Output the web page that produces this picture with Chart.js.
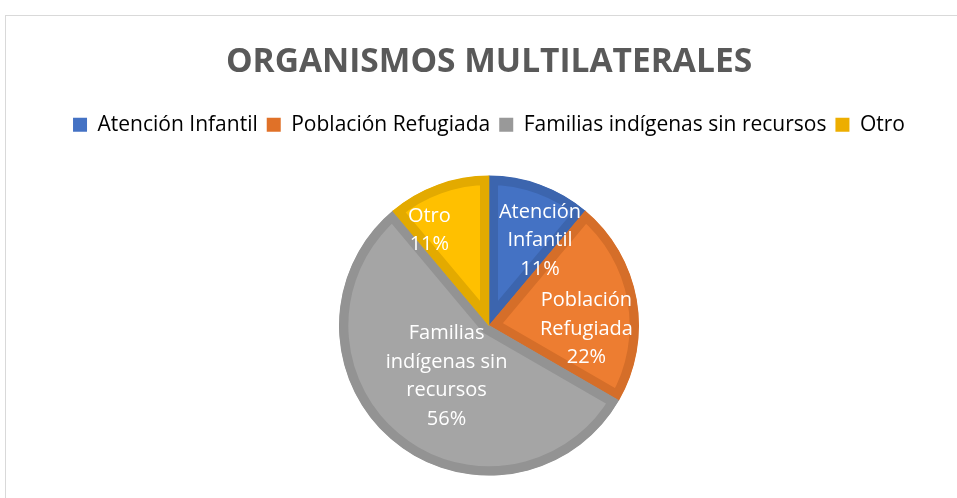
<!DOCTYPE html>
<html>
<head>
<meta charset="utf-8">
<script src="https://cdn.jsdelivr.net/npm/chart.js@4.4.0/dist/chart.umd.min.js"></script>
<style>
    html, body { margin: 0; padding: 0; background: #ffffff; }
    #wrap { position: relative; width: 957px; height: 498px; overflow: hidden; }
    #frame { position: absolute; left: 5px; top: 15px; width: 980px; height: 520px; border: 1px solid #d9d9d9; }
    #chart { position: absolute; left: 0; top: 0; }
</style>
</head>
<body>
<div id="wrap">
    <div id="frame"></div>
    <canvas id="chart" width="957" height="498"></canvas>
</div>
<script>
// Datos del gráfico
const categorias = ['Atención Infantil', 'Población Refugiada', 'Familias indígenas sin recursos', 'Otro'];
const valores = [1, 2, 5, 1];
const etiquetas = [['Atención', 'Infantil'], ['Población', 'Refugiada'], ['Familias', 'indígenas sin', 'recursos'], ['Otro']];

const colores = ['#4472C4', '#ED7D31', '#A5A5A5', '#FFC000'];
const bordes = ['#3C65AE', '#D56E29', '#939393', '#E3AA00'];
const coloresLeyenda = ['#4472C4', '#E07128', '#999999', '#EDAE00'];

// posicion de las etiquetas (fraccion del radio, desplazamiento angular en grados)
const radioEtiqueta = [0.66, 0.65, 0.44, 0.75];
const giroEtiqueta = [11, 12, 0, -12];

const FUENTE = '"Open Sans", Lato, sans-serif';

// espacio extra bajo la leyenda
const espacioLeyenda = {
    id: 'espacioLeyenda',
    beforeInit(chart) {
        const fitOrig = chart.legend.fit;
        chart.legend.fit = function () {
            fitOrig.bind(chart.legend)();
            this.height += 31;
        };
    }
};

const etiquetasPlugin = {
    id: 'etiquetasPie',
    afterDatasetsDraw(chart) {
        const ctx = chart.ctx;
        const meta = chart.getDatasetMeta(0);
        const total = valores.reduce((a, b) => a + b, 0);
        ctx.save();
        ctx.fillStyle = '#ffffff';
        ctx.font = '20px ' + FUENTE;
        ctx.textAlign = 'center';
        ctx.textBaseline = 'middle';
        meta.data.forEach((arc, i) => {
            const p = arc.getProps(['x', 'y', 'startAngle', 'endAngle', 'outerRadius'], true);
            const ang = (p.startAngle + p.endAngle) / 2 + giroEtiqueta[i] * Math.PI / 180;
            const r = p.outerRadius * radioEtiqueta[i];
            const cx = p.x + Math.cos(ang) * r;
            const cy = p.y + Math.sin(ang) * r;
            const lineas = etiquetas[i].concat([Math.round(valores[i] / total * 100) + '%']);
            const alto = 28.5;
            const y0 = cy - (lineas.length - 1) * alto / 2;
            lineas.forEach((t, k) => ctx.fillText(t, cx, y0 + k * alto));
        });
        ctx.restore();
    }
};

new Chart(document.getElementById('chart'), {
    type: 'pie',
    data: {
        labels: categorias,
        datasets: [{
            data: valores,
            backgroundColor: colores,
            borderColor: bordes,
            borderWidth: 9,
            borderAlign: 'inner',
            hoverOffset: 0,
            offset: 0
        }]
    },
    options: {
        responsive: false,
        animation: false,
        radius: 150,
        layout: {
            padding: { left: 21, right: 0, bottom: 23 }
        },
        plugins: {
            title: {
                display: true,
                text: 'ORGANISMOS MULTILATERALES',
                color: '#595959',
                font: { family: FUENTE, size: 33.5, weight: 'bold' },
                padding: { top: 42, bottom: 23 }
            },
            legend: {
                position: 'top',
                labels: {
                    color: '#595959',
                    font: { family: FUENTE, size: 21 },
                    boxWidth: 14,
                    boxHeight: 14,
                    padding: 9,
                    generateLabels(chart) {
                        return categorias.map((c, i) => ({
                            text: c,
                            fillStyle: coloresLeyenda[i],
                            strokeStyle: coloresLeyenda[i],
                            lineWidth: 0,
                            index: i,
                            hidden: false
                        }));
                    }
                }
            },
            tooltip: { enabled: false }
        }
    },
    plugins: [etiquetasPlugin, espacioLeyenda]
});
</script>
</body>
</html>
